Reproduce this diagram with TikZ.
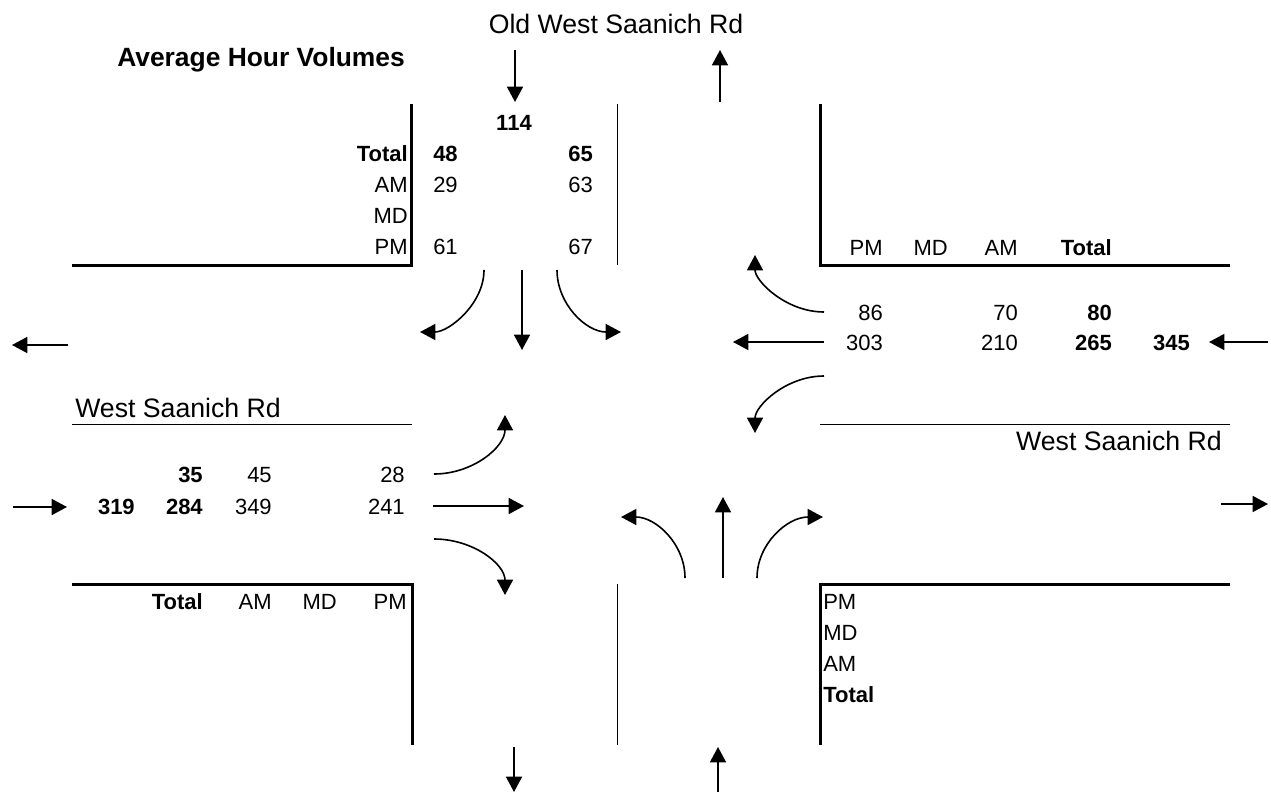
\documentclass[tikz,border=0pt]{standalone}
\usepackage{fontspec}
\setmainfont{Liberation Sans}
\usetikzlibrary{arrows.meta}

\begin{document}
\begin{tikzpicture}[x=0.75pt,y=-0.75pt,
  num/.style={inner sep=0pt,anchor=base east,font=\fontsize{16.5}{19}\selectfont},
  numl/.style={num,anchor=base west},
  road/.style={inner sep=0pt,font=\fontsize{20}{24}\selectfont},
  curb/.style={line width=2.25pt},
  edge/.style={line width=0.75pt},
  flow/.style={line width=1.2pt,-{Triangle[length=11.5pt,width=12pt]}}]
\useasboundingbox (0,0) rectangle (1271,793);

\node[road,anchor=base west,font=\fontsize{19.8}{24}\selectfont\bfseries] (title) at (117,66) {Average Hour Volumes};
\node[road,anchor=base] (rdN) at (616,33) {Old West Saanich Rd};
\node[road,anchor=base west] (rdW) at (75,417) {West Saanich Rd};
\node[road,anchor=base east] (rdE) at (1222,450) {West Saanich Rd};

% kerbs and lane edges
\draw[curb] (411,104) -- (411,265) -- (72,265);
\draw[curb] (820,104) -- (820,265) -- (1230,265);
\draw[curb] (72,584) -- (412,584) -- (412,745);
\draw[curb] (820,745) -- (820,584) -- (1230,584);
\draw[edge] (617,104) -- (617,265);
\draw[edge] (617,584) -- (617,745);
\draw[edge] (72,424) -- (412,424);
\draw[edge] (820,424) -- (1230,424);

% north leg
\node[num] (nTot) at (408,161) {\textbf{Total}};
\node[num] (nAM) at (408,192) {AM};
\node[num] (nMD) at (408,223) {MD};
\node[num] (nPM) at (408,254) {PM};
\node[num] (nIn) at (532,130) {\textbf{114}};
\node[num] (nLT) at (458,161) {\textbf{48}};
\node[num] (nLA) at (458,192) {29};
\node[num] (nLP) at (458,254) {61};
\node[num] (nRT) at (593,161) {\textbf{65}};
\node[num] (nRA) at (593,192) {63};
\node[num] (nRP) at (593,254) {67};

% east leg
\node[num] (ePM) at (883,255) {PM};
\node[num] (eMD) at (948,255) {MD};
\node[num] (eAM) at (1018,255) {AM};
\node[num] (eTot) at (1112,255) {\textbf{Total}};
\node[num] (eRP) at (883,320) {86};
\node[num] (eRA) at (1018,320) {70};
\node[num] (eRT) at (1112,320) {\textbf{80}};
\node[num] (eSP) at (883,350) {303};
\node[num] (eSA) at (1018,350) {210};
\node[num] (eST) at (1112,350) {\textbf{265}};
\node[num] (eIn) at (1190,350) {\textbf{345}};

% west leg
\node[num] (wLT) at (203,482) {\textbf{35}};
\node[num] (wLA) at (272,482) {45};
\node[num] (wLP) at (405,482) {28};
\node[num] (wIn) at (135,514) {\textbf{319}};
\node[num] (wST) at (203,514) {\textbf{284}};
\node[num] (wSA) at (272,514) {349};
\node[num] (wSP) at (405,514) {241};
\node[num] (wTot) at (203,609) {\textbf{Total}};
\node[num] (wAM) at (272,609) {AM};
\node[num] (wMD) at (337,609) {MD};
\node[num] (wPM) at (407,609) {PM};

% south leg
\node[numl] (sPM) at (823,609) {PM};
\node[numl] (sMD) at (823,640) {MD};
\node[numl] (sAM) at (823,671) {AM};
\node[numl] (sTot) at (823,702) {\textbf{Total}};

% approach and exit arrows
\draw[flow] (515,50) -- (515,102);
\draw[flow] (720,102) -- (720,50);
\draw[flow] (68,345) -- (12,345);
\draw[flow] (13,507) -- (67,507);
\draw[flow] (1268,342) -- (1209,342);
\draw[flow] (1221,504) -- (1268,504);
\draw[flow] (514,747) -- (514,792);
\draw[flow] (718,792) -- (718,747);

% turning movements
\draw[flow] (484,270) .. controls (484,304) and (449,332) .. (420,332);
\draw[flow] (522,270) -- (522,350);
\draw[flow] (557,270) .. controls (557,304) and (586,332) .. (621,332);

\draw[flow] (824,312) .. controls (786,312) and (755,281) .. (755,255);
\draw[flow] (824,342) -- (733,342);
\draw[flow] (824,376) .. controls (786,376) and (755,406) .. (755,433);

\draw[flow] (434,474) .. controls (473,474) and (505,447) .. (505,415);
\draw[flow] (433,506) -- (524,506);
\draw[flow] (434,539) .. controls (473,539) and (505,564) .. (505,595);

\draw[flow] (685,578) .. controls (685,544) and (656,517) .. (621,517);
\draw[flow] (723,578) -- (723,497);
\draw[flow] (757,578) .. controls (757,544) and (787,517) .. (823,517);
\end{tikzpicture}
\end{document}
